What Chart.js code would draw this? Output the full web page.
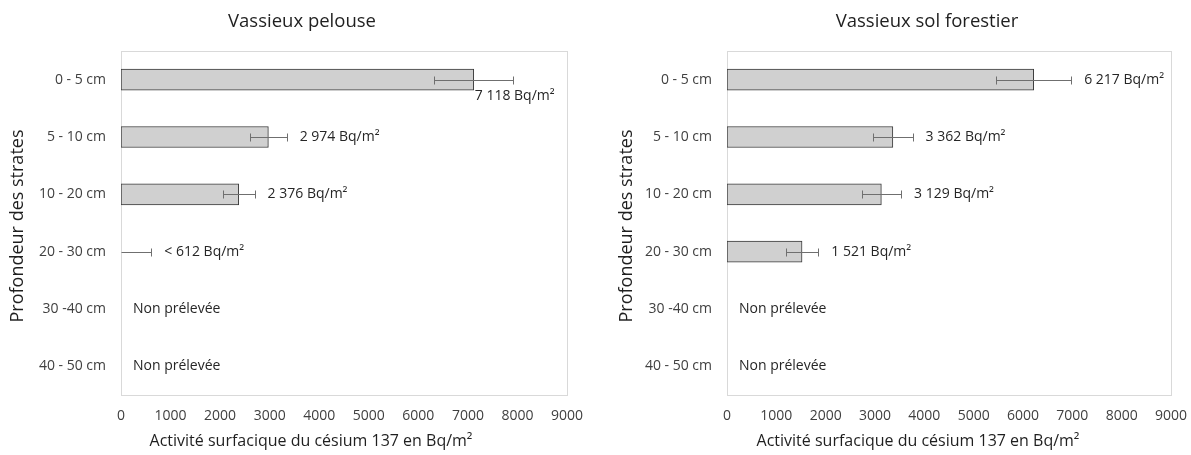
<!DOCTYPE html>
<html>
<head>
<meta charset="utf-8">
<script src="https://cdn.jsdelivr.net/npm/chart.js@4.4.1/dist/chart.umd.min.js"></script>
<style>
  html, body { margin: 0; padding: 0; background: #fff; }
  #wrap { position: relative; width: 1191px; height: 455px; }
  .box { position: absolute; top: 0; height: 455px; }
</style>
</head>
<body>
<div id="wrap">
  <div class="box" style="left:0;width:605px"><canvas id="pelouse"></canvas></div>
  <div class="box" style="left:605px;width:586px"><canvas id="foret"></canvas></div>
</div>
<script>
const strates = ['0 - 5 cm', '5 - 10 cm', '10 - 20 cm', '20 - 30 cm', '30 -40 cm', '40 - 50 cm'];
const xMax = 9000;
const xStep = 1000;

// Vassieux pelouse (Bq/m²)
const pelouseValeurs = [7118, 2974, 2376, null, null, null];
const pelouseIncert  = [800, 370, 320, null, null, null];
const pelouseLimite  = [null, null, null, 612, null, null];   // "< limite"

// Vassieux sol forestier (Bq/m²)
const foretValeurs = [6217, 3362, 3129, 1521, null, null];
const foretIncert  = [760, 400, 400, 330, null, null];
const foretLimite  = [null, null, null, null, null, null];

Chart.defaults.font.family = "'Open Sans', sans-serif";
Chart.defaults.animation = false;

const fmt = v => String(v).replace(/\B(?=(\d{3})+(?!\d))/g, ' ');

const decor = {
  id: 'decor',
  beforeDatasetsDraw(chart) {
    const { ctx, chartArea: a } = chart;
    ctx.save();
    ctx.strokeStyle = '#d9d9d9';
    ctx.lineWidth = 1;
    ctx.strokeRect(a.left + 0.5, a.top + 0.5, a.right - a.left, a.bottom - a.top);
    ctx.restore();
  },
  afterDatasetsDraw(chart) {
    const o = chart.options.plugins.decor;
    const { ctx, chartArea: a } = chart;
    const x = chart.scales.x, y = chart.scales.y;
    const meta = chart.getDatasetMeta(0);
    ctx.save();
    ctx.lineWidth = 1;
    o.valeurs.forEach((v, i) => {
      const yc = Math.round(y.getPixelForValue(i)) + 0.5;
      let lo = null, hi = null;
      if (v != null) { lo = v - o.incert[i]; hi = v + o.incert[i]; }
      else if (o.limite[i] != null) { lo = 0; hi = o.limite[i]; }

      if (hi != null) {
        const xl = Math.round(x.getPixelForValue(lo)) + 0.5;
        const xh = Math.round(x.getPixelForValue(hi)) + 0.5;
        ctx.strokeStyle = '#6f6f6f';
        ctx.beginPath();
        ctx.moveTo(xl, yc); ctx.lineTo(xh, yc);
        ctx.moveTo(xh, yc - 4); ctx.lineTo(xh, yc + 4);
        if (lo > 0) { ctx.moveTo(xl, yc - 4); ctx.lineTo(xl, yc + 4); }
        ctx.stroke();
      }

      ctx.fillStyle = '#262626';
      ctx.font = "14px 'Open Sans', sans-serif";
      ctx.textAlign = 'left';
      ctx.textBaseline = 'middle';
      let txt, tx, ty = yc;
      if (v != null) txt = fmt(v) + ' Bq/m²';
      else if (o.limite[i] != null) txt = '< ' + fmt(o.limite[i]) + ' Bq/m²';
      else txt = 'Non prélevée';

      if (hi == null) {
        tx = a.left + 12;
      } else if (o.sous.includes(i)) {
        // label tucked under the bar end
        const bar = meta.data[i];
        tx = bar.x + 1;
        ty = bar.y + bar.height / 2 + 6;
      } else {
        tx = x.getPixelForValue(hi) + 13;
      }
      ctx.fillText(txt, tx, ty);
    });
    ctx.restore();
  },
  afterDraw(chart) {
    const o = chart.options.plugins.decor;
    const { ctx } = chart;
    ctx.save();
    ctx.fillStyle = '#1f1f1f';
    ctx.textAlign = 'center';
    ctx.textBaseline = 'middle';
    ctx.font = "18.5px 'Open Sans', sans-serif";
    ctx.fillText(o.titre, o.titreX, 22);
    ctx.font = "16px 'Open Sans', sans-serif";
    ctx.fillText('Activité surfacique du césium 137 en Bq/m²', o.axeX, 441);
    ctx.translate(o.axeY, 226);
    ctx.rotate(-Math.PI / 2);
    ctx.font = "18px 'Open Sans', sans-serif";
    ctx.fillText('Profondeur des strates', 0, 0);
    ctx.restore();
  }
};

function graphe(id, valeurs, incert, limite, p) {
  return new Chart(document.getElementById(id), {
    type: 'bar',
    data: {
      labels: strates,
      datasets: [{
        data: valeurs,
        backgroundColor: '#d0d0d0',
        borderColor: '#3a3a3a',
        borderWidth: 1,
        borderSkipped: false,
        barThickness: 21
      }]
    },
    options: {
      indexAxis: 'y',
      responsive: true,
      maintainAspectRatio: false,
      layout: { padding: { top: 51, right: p.droite, bottom: 0, left: 0 } },
      scales: {
        x: {
          min: 0, max: xMax,
          grid: { display: false, drawTicks: false },
          border: { display: false },
          ticks: {
            stepSize: xStep, padding: 13, color: '#404040', font: { size: 14 },
            callback: v => String(v)
          },
          afterFit(s) { s.height = 60; s.paddingLeft = 0; s.paddingRight = 0; }
        },
        y: {
          grid: { display: false, drawTicks: false },
          border: { display: false },
          ticks: { padding: 15, color: '#404040', font: { size: 14 } },
          afterFit(s) { s.width = p.gauche; }
        }
      },
      plugins: {
        legend: { display: false },
        tooltip: { enabled: false },
        decor: {
          valeurs, incert, limite,
          sous: p.sous,
          titre: p.titre, titreX: p.titreX,
          axeX: p.axeX, axeY: p.axeY
        }
      }
    },
    plugins: [decor]
  });
}

graphe('pelouse', pelouseValeurs, pelouseIncert, pelouseLimite,
  { titre: 'Vassieux pelouse', titreX: 302, axeX: 311, axeY: 18, gauche: 121, droite: 38, sous: [0] });
graphe('foret', foretValeurs, foretIncert, foretLimite,
  { titre: 'Vassieux sol forestier', titreX: 322, axeX: 313, axeY: 22, gauche: 122, droite: 20, sous: [] });
</script>
</body>
</html>
